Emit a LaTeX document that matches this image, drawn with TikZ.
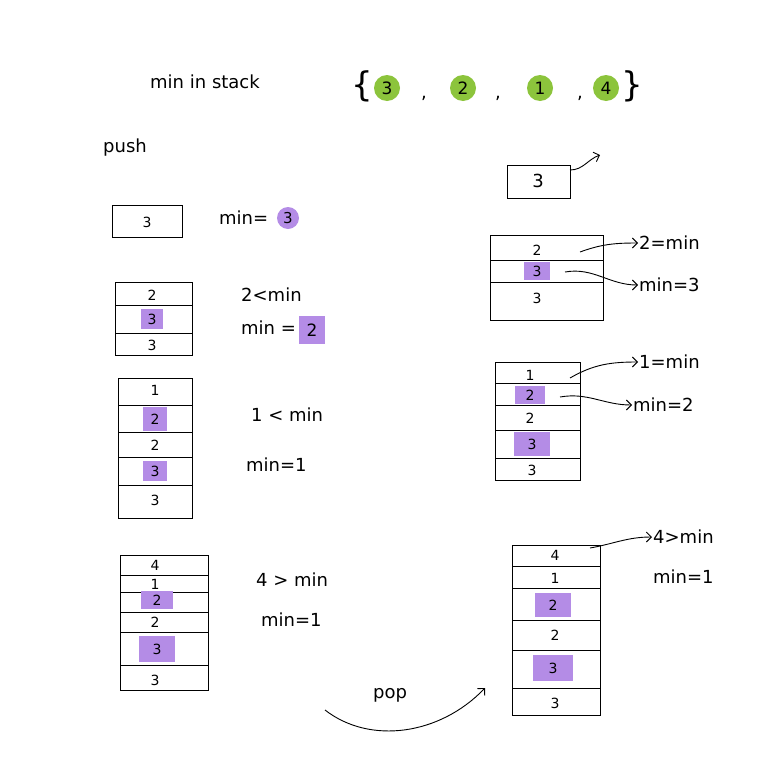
\documentclass[tikz,border=0pt]{standalone}
\usepackage{fontspec}
\setmainfont{DejaVu Sans}
\usetikzlibrary{arrows.meta}
\definecolor{grn}{HTML}{8CC43C}
\definecolor{pur}{HTML}{B48CE6}
\tikzset{
  hand/.style={line width=0.9pt,black},
  txt/.style={font=\fontsize{18}{20}\selectfont,inner sep=1pt},
  small/.style={font=\fontsize{14}{16}\selectfont,inner sep=1pt},
  gdot/.style={circle,fill=grn,minimum size=26pt,inner sep=0pt,font=\fontsize{17}{19}\selectfont},
  pdot/.style={circle,fill=pur,minimum size=22pt,inner sep=0pt,font=\fontsize{15}{17}\selectfont},
  psq/.style={fill=pur,minimum width=30pt,minimum height=20pt,inner sep=0pt,font=\fontsize{14}{16}\selectfont},
  arr/.style={hand,-{Straight Barb[length=5pt]}}
}
\begin{document}
\begin{tikzpicture}[x=1pt,y=-1pt]
\useasboundingbox (0,0) rectangle (768,774);
% header
\node[txt] (title) at (205,82) {min in stack};
\node[font=\fontsize{34}{34}\selectfont] (lb) at (362,86) {\{};
\node[gdot] (g3) at (387,88) {3};
\node[txt] (c1) at (424,98) {,};
\node[gdot] (g2) at (463,88) {2};
\node[txt] (c2) at (498,98) {,};
\node[gdot] (g1) at (540,88) {1};
\node[txt] (c3) at (580,98) {,};
\node[gdot] (g4) at (606,88) {4};
\node[font=\fontsize{34}{34}\selectfont] (rb) at (632,86) {\}};
\node[txt] (push) at (125,148) {push};
% left stack 1
\draw[hand] (112,205) rectangle (182,237);
\node[small] (a1) at (147,222) {3};
\node[txt,anchor=west] (m1) at (218,218) {min=};
\node[pdot] (m1v) at (288,218) {3};
% left stack 2
\draw[hand] (115,282) rectangle (192,355);
\draw[hand] (115,305)--(192,305) (115,333)--(192,333);
\node[small] (b1) at (152,295) {2};
\node[psq,minimum width=22pt] (b2) at (152,319) {3};
\node[small] (b3) at (152,345) {3};
\node[txt,anchor=west] (t2a) at (240,295) {2<min};
\node[txt,anchor=west] (t2b) at (240,328) {min =};
\node[psq,minimum width=26pt,minimum height=28pt,font=\fontsize{17}{19}\selectfont] (t2v) at (312,330) {2};
% left stack 3
\draw[hand] (118,378) rectangle (192,518);
\foreach \y in {405,432,457,485} \draw[hand] (118,\y)--(192,\y);
\node[small] (c1a) at (155,390) {1};
\node[psq,minimum width=24pt,minimum height=24pt] (c2a) at (155,419) {2};
\node[small] (c3a) at (155,445) {2};
\node[psq,minimum width=24pt] (c4a) at (155,471) {3};
\node[small] (c5a) at (155,500) {3};
\node[txt,anchor=west] (t3a) at (250,415) {1 < min};
\node[txt,anchor=west] (t3b) at (245,465) {min=1};
% left stack 4
\draw[hand] (120,555) rectangle (208,690);
\foreach \y in {575,592,612,632,665} \draw[hand] (120,\y)--(208,\y);
\node[small] (d1) at (155,565) {4};
\node[small] (d2) at (155,584) {1};
\node[psq,minimum width=32pt,minimum height=18pt] (d3) at (157,600) {2};
\node[small] (d4) at (155,622) {2};
\node[psq,minimum width=36pt,minimum height=26pt] (d5) at (157,649) {3};
\node[small] (d6) at (155,680) {3};
\node[txt,anchor=west] (t4a) at (255,580) {4 > min};
\node[txt,anchor=west] (t4b) at (260,620) {min=1};
% right box 1
\draw[hand] (507,165) rectangle (570,198);
\node[txt] (r1) at (538,181) {3};
\coordinate (r1e) at (600,155);
\draw[arr] (570,170) to[out=0,in=200] (r1e);
% right stack 2
\draw[hand] (490,235) rectangle (603,320);
\draw[hand] (490,260)--(603,260) (490,282)--(603,282);
\node[small] (s1) at (537,250) {2};
\node[psq,minimum width=26pt,minimum height=18pt] (s2) at (537,271) {3};
\node[small] (s3) at (537,298) {3};
\node[txt,anchor=west] (u1) at (638,243) {2=min};
\node[txt,anchor=west] (u2) at (638,285) {min=3};
\draw[arr] (580,252) to[out=20,in=180] (u1.west);
\draw[arr] (565,272) to[out=10,in=180] (u2.west);
% right stack 3
\draw[hand] (495,362) rectangle (580,480);
\foreach \y in {383,405,430,458} \draw[hand] (495,\y)--(580,\y);
\node[small] (v1) at (530,375) {1};
\node[psq,minimum width=30pt,minimum height=18pt] (v2) at (530,395) {2};
\node[small] (v3) at (530,418) {2};
\node[psq,minimum width=36pt,minimum height=24pt] (v4) at (532,444) {3};
\node[small] (v5) at (532,470) {3};
\node[txt,anchor=west] (w1) at (638,362) {1=min};
\node[txt,anchor=west] (w2) at (632,405) {min=2};
\draw[arr] (570,378) to[out=30,in=180] (w1.west);
\draw[arr] (560,397) to[out=10,in=180] (w2.west);
% right stack 4
\draw[hand] (512,545) rectangle (600,715);
\foreach \y in {566,588,620,650,688} \draw[hand] (512,\y)--(600,\y);
\node[small] (x1) at (555,555) {4};
\node[small] (x2) at (555,578) {1};
\node[psq,minimum width=36pt,minimum height=24pt] (x3) at (553,605) {2};
\node[small] (x4) at (555,635) {2};
\node[psq,minimum width=40pt,minimum height=26pt] (x5) at (553,668) {3};
\node[small] (x6) at (555,703) {3};
\node[txt,anchor=west] (y1) at (652,537) {4>min};
\node[txt,anchor=west] (y2) at (652,577) {min=1};
\draw[arr] (590,548) to[out=10,in=180] (y1.west);
% pop
\node[txt] (pop) at (390,695) {pop};
\coordinate (pa) at (325,710);
\coordinate (pb) at (485,688);
\draw[arr] (pa) .. controls (370,745) and (440,735) .. (pb);
\end{tikzpicture}
\end{document}
